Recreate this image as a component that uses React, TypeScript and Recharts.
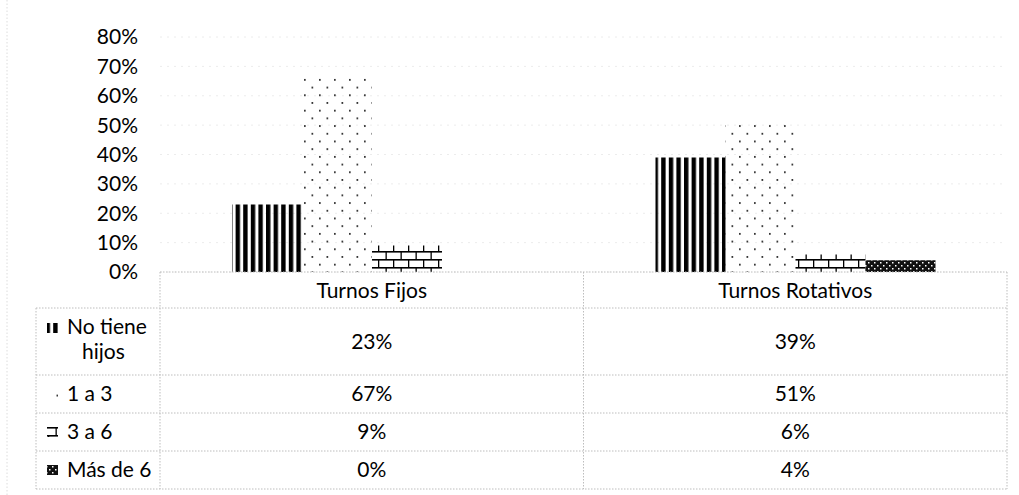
import React from "react";
import { BarChart, Bar, XAxis, YAxis, CartesianGrid } from "recharts";

const categories = ["Turnos Fijos", "Turnos Rotativos"];
const seriesNames = ["No tiene hijos", "1 a 3", "3 a 6", "Más de 6"];
const noTieneHijos = [23, 39];
const unoATres = [67, 51];
const tresASeis = [9, 6];
const masDeSeis = [0, 4];
const yTicks = [0, 10, 20, 30, 40, 50, 60, 70, 80];

const seriesValues = [noTieneHijos, unoATres, tresASeis, masDeSeis];
const seriesKeys = ["noHijos", "unoTres", "tresSeis", "masSeis"];
const patternNames = ["stripes", "dots", "brick", "check"];

const W = 1019;
const H = 495;
const FONT = "Lato, 'Open Sans', sans-serif";
const FONT_SIZE = 21;
const PLOT_LEFT = 160;
const PLOT_RIGHT = 1007;
const PLOT_TOP = 37;
const PLOT_BOTTOM = 272;
const X_AXIS_H = 40;

// data table geometry below the plot
const TABLE_LEFT = 36;
const rowLines = [308, 375, 413, 451, 489];
const GRID = "#bdbdbd";

const chartData = categories.map((name, i) => {
  const row: any = { name };
  seriesKeys.forEach((k, s) => {
    row[k] = seriesValues[s][i];
  });
  return row;
});

const PatternDefs = ({ p }: { p: string }) => (
  <defs>
    <pattern id={`${p}-stripes`} patternUnits="userSpaceOnUse" width={7.6} height={8}>
      <rect x={0} y={0} width={4.4} height={8} fill="#000" />
    </pattern>
    <pattern id={`${p}-dots`} patternUnits="userSpaceOnUse" width={15} height={15.4}>
      <rect x={4} y={2} width={1.7} height={1.7} fill="#222" />
      <rect x={11.5} y={9.7} width={1.7} height={1.7} fill="#222" />
    </pattern>
    <pattern id={`${p}-brick`} patternUnits="userSpaceOnUse" width={15} height={16}>
      <rect x={0} y={3} width={15} height={1.6} fill="#000" />
      <rect x={0} y={11} width={15} height={1.6} fill="#000" />
      <rect x={3} y={3} width={1.3} height={8} fill="#000" />
      <rect x={10.5} y={11} width={1.3} height={5} fill="#000" />
      <rect x={10.5} y={0} width={1.3} height={3} fill="#000" />
    </pattern>
    <pattern id={`${p}-check`} patternUnits="userSpaceOnUse" width={6} height={6}>
      <rect x={0} y={0} width={6} height={6} fill="#111" />
      <rect x={1} y={1} width={1.5} height={1.5} fill="#fff" />
      <rect x={4} y={4} width={1.5} height={1.5} fill="#fff" />
    </pattern>
  </defs>
);

const DataTable = () => {
  const colW = (PLOT_RIGHT - PLOT_LEFT) / categories.length;
  const rowMid = (i: number) => (rowLines[i] + rowLines[i + 1]) / 2;
  const txt = { fontFamily: FONT, fontSize: FONT_SIZE, fill: "#000" };
  return (
    <svg
      width={W}
      height={H}
      style={{ position: "absolute", left: 0, top: 0, pointerEvents: "none" }}
    >
      <PatternDefs p="tbl" />
      <line x1={7} y1={0} x2={7} y2={H} stroke="#dcdcdc" strokeDasharray="1.5 2" />
      {rowLines.map((y) => (
        <line key={y} x1={TABLE_LEFT} y1={y} x2={PLOT_RIGHT} y2={y} stroke={GRID} strokeDasharray="1.5 1.5" />
      ))}
      <line x1={TABLE_LEFT} y1={rowLines[0]} x2={TABLE_LEFT} y2={rowLines[4]} stroke={GRID} strokeDasharray="1.5 1.5" />
      {[0, 1, 2].map((c) => (
        <line
          key={c}
          x1={PLOT_LEFT + c * colW}
          y1={PLOT_BOTTOM}
          x2={PLOT_LEFT + c * colW}
          y2={rowLines[4]}
          stroke={GRID}
          strokeDasharray="1.5 1.5"
        />
      ))}
      {seriesNames.map((name, s) => {
        const mid = s === 0 ? 328 : rowMid(s);
        return (
          <g key={name}>
            <rect x={47} y={mid - 5} width={11} height={10} fill={`url(#tbl-${patternNames[s]})`} />
            {s === 0 ? (
              <>
                <text x={67} y={334} {...txt}>No tiene</text>
                <text x={82} y={359} {...txt}>hijos</text>
              </>
            ) : (
              <text x={67} y={rowMid(s) + 7} {...txt}>{name}</text>
            )}
            {seriesValues[s].map((v, i) => (
              <text
                key={i}
                x={PLOT_LEFT + colW * (i + 0.5)}
                y={rowMid(s) + 7}
                textAnchor="middle"
                {...txt}
              >
                {v}%
              </text>
            ))}
          </g>
        );
      })}
    </svg>
  );
};

export default function App() {
  return (
    <div style={{ position: "absolute", left: 0, top: 0, width: W, height: H, background: "#fff" }}>
      <BarChart
        width={W}
        height={H}
        data={chartData}
        margin={{ top: PLOT_TOP, right: W - PLOT_RIGHT, left: 0, bottom: H - PLOT_BOTTOM - X_AXIS_H }}
        barCategoryGap="17%"
        barGap={0}
      >
        <PatternDefs p="bar" />
        <CartesianGrid vertical={false} stroke="#ececec" strokeDasharray="2 5" />
        <XAxis
          dataKey="name"
          height={X_AXIS_H}
          axisLine={{ stroke: GRID, strokeDasharray: "1.5 1.5" }}
          tickLine={false}
          tickSize={0}
          tickMargin={11}
          tick={{ fill: "#000", fontSize: FONT_SIZE, fontFamily: FONT }}
        />
        <YAxis
          width={PLOT_LEFT}
          domain={[0, 80]}
          ticks={yTicks}
          interval={0}
          tickFormatter={(v: number) => `${v}%`}
          axisLine={false}
          tickLine={false}
          tickSize={0}
          tickMargin={22}
          tick={{ fill: "#000", fontSize: FONT_SIZE, fontFamily: FONT }}
        />
        {seriesKeys.map((k, s) => (
          <Bar
            key={k}
            dataKey={k}
            name={seriesNames[s]}
            fill={`url(#bar-${patternNames[s]})`}
            isAnimationActive={false}
          />
        ))}
      </BarChart>
      <DataTable />
    </div>
  );
}
